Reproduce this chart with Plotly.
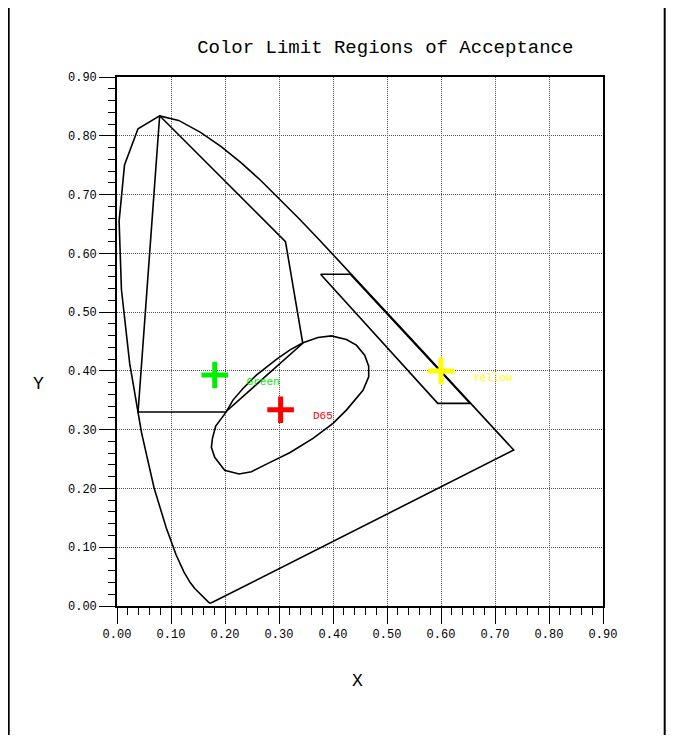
import plotly.graph_objects as go

# Spectral locus (closed by the purple line)
locus_x = [0.1741, 0.1733, 0.1714, 0.1689, 0.1644, 0.1611, 0.1566, 0.1510, 0.1440, 0.1355,
           0.1241, 0.1096, 0.0913, 0.0687, 0.0454, 0.0235, 0.0082, 0.0039, 0.0139, 0.0389,
           0.0790, 0.1142, 0.1547, 0.1929, 0.2296, 0.2658, 0.3016, 0.3373, 0.3731, 0.4087,
           0.4441, 0.4788, 0.5125, 0.5448, 0.5752, 0.6029, 0.6270, 0.6482, 0.6658, 0.6801,
           0.6915, 0.7006, 0.7079, 0.7140, 0.7190, 0.7230, 0.7260, 0.7300, 0.7334, 0.7347,
           0.1741]
locus_y = [0.0050, 0.0048, 0.0051, 0.0069, 0.0109, 0.0138, 0.0177, 0.0227, 0.0297, 0.0399,
           0.0578, 0.0868, 0.1327, 0.2007, 0.2950, 0.4127, 0.5384, 0.6548, 0.7502, 0.8120,
           0.8338, 0.8262, 0.8059, 0.7816, 0.7543, 0.7243, 0.6923, 0.6589, 0.6245, 0.5896,
           0.5547, 0.5202, 0.4866, 0.4544, 0.4242, 0.3965, 0.3725, 0.3514, 0.3340, 0.3197,
           0.3083, 0.2993, 0.2920, 0.2859, 0.2809, 0.2770, 0.2740, 0.2700, 0.2666, 0.2653,
           0.0050]

# Green acceptance region
green_x = [0.079, 0.312, 0.344, 0.201, 0.039, 0.079]
green_y = [0.834, 0.620, 0.447, 0.330, 0.330, 0.834]

# Yellow acceptance region
yellow_x = [0.377, 0.432, 0.654, 0.594, 0.377]
yellow_y = [0.5645, 0.5645, 0.3447, 0.3447, 0.5645]

# D65 (white) acceptance region
d65_x = [0.2013, 0.1828, 0.1767, 0.1748, 0.1809, 0.1994, 0.2259, 0.2489, 0.2796, 0.3198,
         0.3630, 0.4000, 0.4248, 0.4556, 0.4661, 0.4661, 0.4587, 0.4433, 0.4248, 0.3970,
         0.3722, 0.3444, 0.3198, 0.2952, 0.2581, 0.2333, 0.2148, 0.2013]
d65_y = [0.329, 0.306, 0.285, 0.270, 0.253, 0.231, 0.2245, 0.2284, 0.2426, 0.2607,
         0.2852, 0.3107, 0.3333, 0.367, 0.390, 0.408, 0.4268, 0.4438, 0.4535, 0.4596,
         0.4569, 0.4477, 0.4353, 0.4195, 0.3928, 0.370, 0.3503, 0.329]

# Reference points
point_names = ["Green", "D65", "Yellow"]
point_x = [0.181, 0.303, 0.600]
point_y = [0.393, 0.334, 0.400]
point_colors = ["#00ee00", "#ff0000", "#ffff00"]
label_x = [0.240, 0.363, 0.659]
label_y = [0.380, 0.322, 0.387]

FONT = "Liberation Mono"

# page body has an 8px margin: figure pixel = window pixel - 8
W, H = 658, 727
L, T, PW, PH = 109.3, 68.7, 486.0, 529.3

fig = go.Figure()
for xs, ys in [(locus_x, locus_y), (green_x, green_y), (yellow_x, yellow_y), (d65_x, d65_y)]:
    fig.add_trace(go.Scatter(x=xs, y=ys, mode="lines",
                             line=dict(color="black", width=1.6),
                             hoverinfo="skip"))

fig.add_trace(go.Scatter(
    x=point_x, y=point_y, mode="markers",
    marker=dict(symbol="cross-thin", size=19,
                line=dict(color=point_colors, width=5)),
    hoverinfo="skip"))

fig.add_trace(go.Scatter(
    x=label_x, y=label_y, mode="text", text=point_names,
    textposition="middle right",
    textfont=dict(family=FONT, size=11, color=point_colors),
    hoverinfo="skip"))

tick_vals = [i / 10 for i in range(10)]
tick_text = ["%.2f" % v for v in tick_vals]

axis_common = dict(
    range=[0, 0.9],
    tickvals=tick_vals, ticktext=tick_text,
    ticks="outside", ticklen=16, tickwidth=1.3, tickcolor="black",
    showline=True, linecolor="black", linewidth=1.6, mirror=True,
    showgrid=True, gridcolor="#555555", griddash="1px,1px", gridwidth=1,
    zeroline=False,
    tickfont=dict(family=FONT, size=12, color="black"),
    minor=dict(dtick=0.02, ticks="outside", ticklen=7, tickwidth=1.2,
               tickcolor="black", showgrid=False),
    fixedrange=True,
)

fig.update_layout(
    width=W, height=H,
    margin=dict(l=109, r=W - 109 - 486, t=69, b=H - 69 - 529),
    paper_bgcolor="white", plot_bgcolor="white",
    showlegend=False,
    title=dict(text="Color Limit Regions of Acceptance",
               font=dict(family=FONT, size=19, color="black"),
               x=0.552, xref="paper", xanchor="center",
               y=1 - 38 / H, yref="container", yanchor="middle"),
    xaxis=dict(**axis_common),
    yaxis=dict(**axis_common),
)

fig.add_annotation(text="X", x=(350 - L) / PW, y=(T + PH - 673) / PH,
                   xref="paper", yref="paper", showarrow=False,
                   xanchor="center", yanchor="middle",
                   font=dict(family=FONT, size=18, color="black"))
fig.add_annotation(text="Y", x=(31 - L) / PW, y=(T + PH - 376) / PH,
                   xref="paper", yref="paper", showarrow=False,
                   xanchor="center", yanchor="middle",
                   font=dict(family=FONT, size=18, color="black"))

for px in [1, 657]:
    xp = (px - L) / PW
    fig.add_shape(type="line", xref="paper", yref="paper",
                  x0=xp, x1=xp, y0=-0.3, y1=1.2,
                  line=dict(color="black", width=2))

fig.write_html("out.html")
